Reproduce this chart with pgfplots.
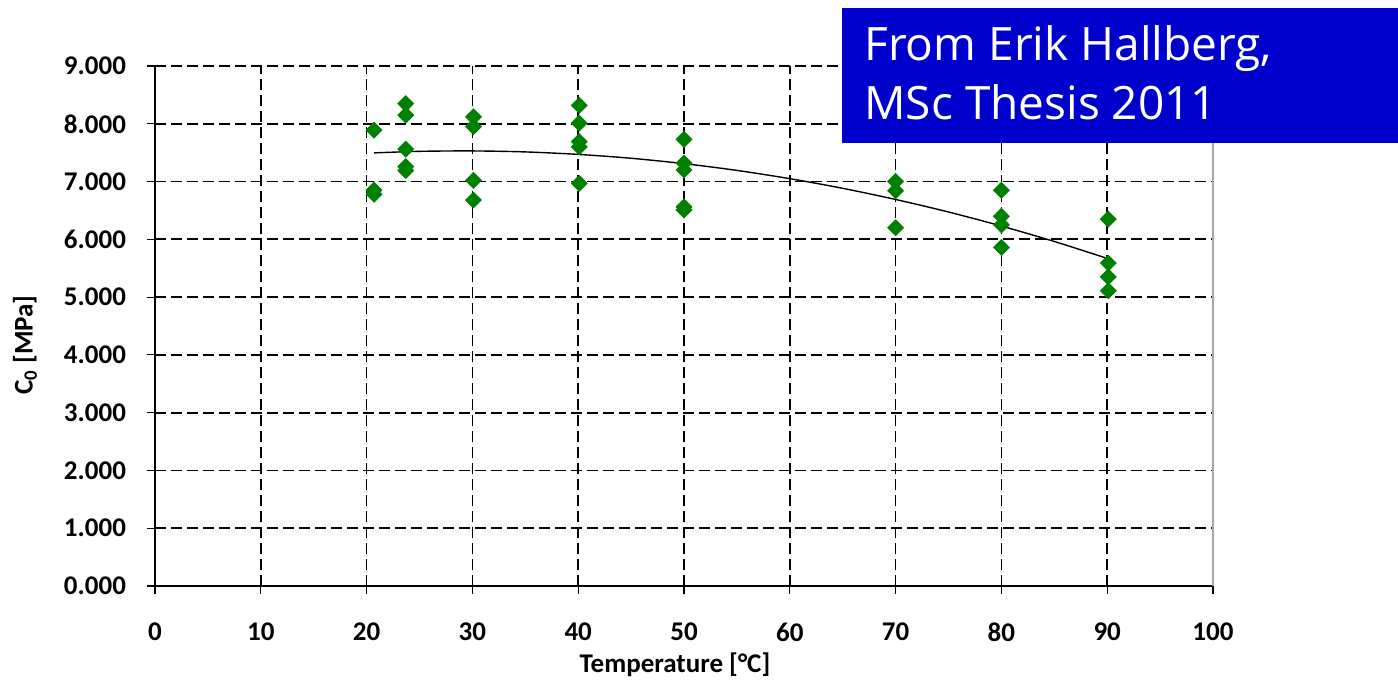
\documentclass[border=0pt]{standalone}
\usepackage{pgfplots}
\pgfplotsset{compat=1.18}
\usepackage{fontspec}
\setmainfont{Carlito}
\newfontfamily\boxfont{Open Sans}
\definecolor{ptgreen}{RGB}{0,128,0}
\definecolor{boxblue}{RGB}{0,0,205}
\begin{document}
\begin{tikzpicture}
\useasboundingbox (0,0) rectangle (699pt,341.5pt);
\begin{axis}[
  at={(77.5pt,48.5pt)}, anchor=south west,
  width=529pt, height=260pt, scale only axis,
  xmin=0, xmax=100, ymin=0, ymax=9,
  xtick={0,10,...,100}, ytick={0,1,...,9},
  axis x line=bottom, axis y line=left,
  axis line style={-, black, line width=0.7pt},
  tick align=outside, major tick length=4pt,
  tick style={black, line width=0.6pt},
  grid=major,
  major grid style={black, line width=0.85pt, dash pattern=on 5.5pt off 2.5pt},
  /pgf/number format/assume math mode=true,
  yticklabel style={/pgf/number format/fixed, /pgf/number format/fixed zerofill, /pgf/number format/precision=3, xshift=-7pt},
  ticklabel style={font=\fontsize{13.5}{15}\selectfont\bfseries},
  xticklabel style={yshift=-11pt},
  xlabel={Temperature [°C]},
  ylabel={C\textsubscript{0} [MPa]},
  label style={font=\fontsize{13.5}{15}\selectfont\bfseries},
  xlabel style={at={(axis description cs:0.4915,-0.152)}, anchor=center},
  ylabel style={at={(axis description cs:-0.1229,0.4635)}, anchor=center},
  clip=false,
]
\draw[gray!70, line width=0.7pt] (rel axis cs:1,0) -- (rel axis cs:1,1);
\addplot[black, line width=0.7pt, smooth] coordinates {
 (20.7,7.496) (25,7.523) (30,7.530) (35,7.513) (40,7.470) (45,7.403)
 (50,7.310) (55,7.193) (60,7.050) (65,6.883) (70,6.690) (75,6.473)
 (80,6.230) (85,5.963) (90,5.670)};
\addplot[only marks, mark=square*, mark size=2.8pt,
  mark options={rotate=45, fill=ptgreen, draw=ptgreen}] coordinates {
 (20.7,7.89) (20.7,6.85) (20.7,6.78)
 (23.7,8.35) (23.7,8.15) (23.7,7.56) (23.7,7.26) (23.7,7.19)
 (30.1,8.12) (30.1,7.95) (30.1,7.02) (30.1,6.68)
 (40.1,8.32) (40.1,8.01) (40.1,7.69) (40.1,7.60) (40.1,6.97)
 (50.0,7.73) (50.0,7.32) (50.0,7.20) (50.0,6.56) (50.0,6.51)
 (70.0,7.00) (70.0,6.84) (70.0,6.20)
 (80.0,6.85) (80.0,6.40) (80.0,6.25) (80.0,5.86)
 (90.1,6.35) (90.1,5.59) (90.1,5.35) (90.1,5.11)
};
\end{axis}
\fill[boxblue] (421pt,270pt) rectangle (699pt,337.5pt);
\node[anchor=base west, text=white, inner sep=0pt, font=\boxfont\fontsize{23}{28}\selectfont] at (432pt,311pt) {From Erik Hallberg,};
\node[anchor=base west, text=white, inner sep=0pt, font=\boxfont\fontsize{23}{28}\selectfont] at (432pt,281.5pt) {MSc Thesis 2011};
\end{tikzpicture}
\end{document}
